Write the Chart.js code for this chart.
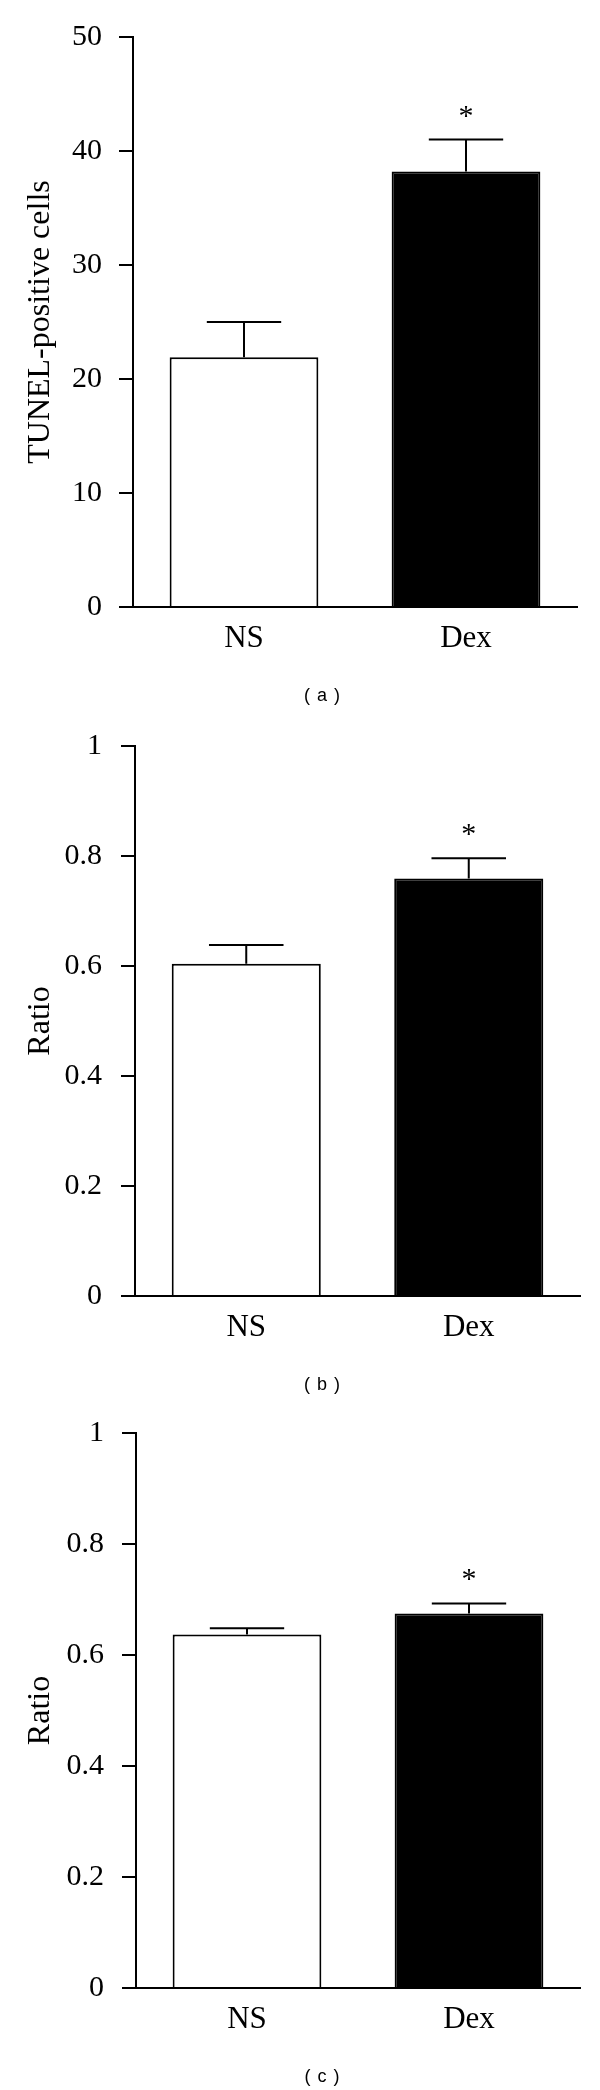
<!DOCTYPE html>
<html>
<head>
<meta charset="utf-8">
<title>TUNEL / Ratio</title>
<script src="https://cdn.jsdelivr.net/npm/chart.js@4.4.0/dist/chart.umd.min.js"></script>
<style>
    html, body { margin: 0; padding: 0; background: #fff; }
    body { width: 600px; height: 2090px; position: relative; overflow: hidden; }
    .panel { position: absolute; left: 0; width: 600px; }
    .caption {
        position: absolute; left: 22px; width: 600px; height: 20px; line-height: 20px;
        text-align: center; color: #000;
        font-family: "Liberation Sans", Arial, sans-serif; font-size: 18px;
        letter-spacing: 7px; padding-left: 7px; box-sizing: border-box;
    }
</style>
</head>
<body>
<div class="panel" style="top:0px"><canvas id="chart-a" width="600" height="690"></canvas></div>
<div class="caption" style="top:685px">(a)</div>
<div class="panel" style="top:700px"><canvas id="chart-b" width="600" height="690"></canvas></div>
<div class="caption" style="top:1374px">(b)</div>
<div class="panel" style="top:1390px"><canvas id="chart-c" width="600" height="690"></canvas></div>
<div class="caption" style="top:2066px">(c)</div>

<script>
// 群
const groups = ['NS', 'Dex'];
const starred = [false, true];

// (a) TUNEL陽性細胞数
const tunelMeans = [21.9, 38.2];
const tunelErrors = [3.1, 2.8];
const tunelTicks = [0, 10, 20, 30, 40, 50];

// (b) Ratio
const ratioBMeans = [0.604, 0.759];
const ratioBErrors = [0.034, 0.037];

// (c) Ratio
const ratioCMeans = [0.637, 0.675];
const ratioCErrors = [0.011, 0.018];
const ratioTicks = [0, 0.2, 0.4, 0.6, 0.8, 1];

const SERIF = '"Liberation Serif", "Times New Roman", Times, serif';
const CANVAS_H = 690;

// 上側だけのエラーバーと有意差マーク
const errorBarPlugin = {
    id: 'errorBars',
    afterDatasetsDraw(chart, args, opts) {
        const ctx = chart.ctx;
        const y = chart.scales.y;
        const meta = chart.getDatasetMeta(0);
        const values = chart.data.datasets[0].data;
        ctx.save();
        ctx.strokeStyle = '#000';
        ctx.fillStyle = '#000';
        ctx.lineWidth = 2;
        meta.data.forEach((bar, i) => {
            const top = y.getPixelForValue(values[i]);
            const cap = y.getPixelForValue(values[i] + opts.errors[i]);
            const half = bar.width / 4;
            ctx.beginPath();
            ctx.moveTo(bar.x, top);
            ctx.lineTo(bar.x, cap);
            ctx.moveTo(bar.x - half, cap);
            ctx.lineTo(bar.x + half, cap);
            ctx.stroke();
            if (opts.stars[i]) {
                ctx.font = '30px ' + SERIF;
                ctx.textAlign = 'center';
                ctx.textBaseline = 'alphabetic';
                ctx.fillText('*', bar.x, cap - 15);
            }
        });
        ctx.restore();
    }
};

function makeChart(id, p) {
    const ctx = document.getElementById(id).getContext('2d');
    return new Chart(ctx, {
        type: 'bar',
        data: {
            labels: groups,
            datasets: [{
                data: p.means,
                backgroundColor: ['#ffffff', '#000000'],
                borderColor: '#000',
                borderWidth: 2,
                barPercentage: 0.67,
                categoryPercentage: 1.0
            }]
        },
        options: {
            responsive: false,
            animation: false,
            devicePixelRatio: 1,
            layout: {
                padding: { top: p.areaTop - p.canvasTop, right: 600 - p.areaRight, bottom: 0, left: 0 }
            },
            plugins: {
                legend: { display: false },
                tooltip: { enabled: false },
                errorBars: { errors: p.errors, stars: starred }
            },
            scales: {
                x: {
                    offset: true,
                    grid: { display: false, drawTicks: false },
                    border: { display: true, color: '#000', width: 2 },
                    ticks: { color: '#000', padding: 13, font: { family: SERIF, size: 31 } },
                    afterFit(scale) { scale.height = p.canvasTop + CANVAS_H - p.areaBottom; }
                },
                y: {
                    min: 0,
                    max: p.ticks[p.ticks.length - 1],
                    afterBuildTicks(scale) { scale.ticks = p.ticks.map(v => ({ value: v })); },
                    ticks: {
                        color: '#000',
                        padding: p.tickPad,
                        font: { family: SERIF, size: 30 },
                        callback: v => String(v)
                    },
                    grid: {
                        display: true, drawOnChartArea: false, drawTicks: true,
                        tickLength: 14, tickWidth: 2, tickColor: '#000', color: '#000', lineWidth: 2
                    },
                    border: { display: true, color: '#000', width: 2 },
                    title: {
                        display: true, text: p.title, color: '#000',
                        font: { family: SERIF, size: 32 },
                        padding: { top: 21, bottom: 0 }
                    },
                    afterFit(scale) { scale.width = p.areaLeft; }
                }
            }
        },
        plugins: [errorBarPlugin]
    });
}

makeChart('chart-a', {
    means: tunelMeans, errors: tunelErrors, ticks: tunelTicks,
    title: 'TUNEL-positive cells', tickPad: 17,
    canvasTop: 0, areaTop: 37, areaBottom: 607, areaLeft: 133, areaRight: 577
});
makeChart('chart-b', {
    means: ratioBMeans, errors: ratioBErrors, ticks: ratioTicks,
    title: 'Ratio', tickPad: 19,
    canvasTop: 700, areaTop: 746, areaBottom: 1296, areaLeft: 135, areaRight: 580
});
makeChart('chart-c', {
    means: ratioCMeans, errors: ratioCErrors, ticks: ratioTicks,
    title: 'Ratio', tickPad: 18,
    canvasTop: 1390, areaTop: 1433, areaBottom: 1988, areaLeft: 136, areaRight: 580
});
</script>
</body>
</html>
